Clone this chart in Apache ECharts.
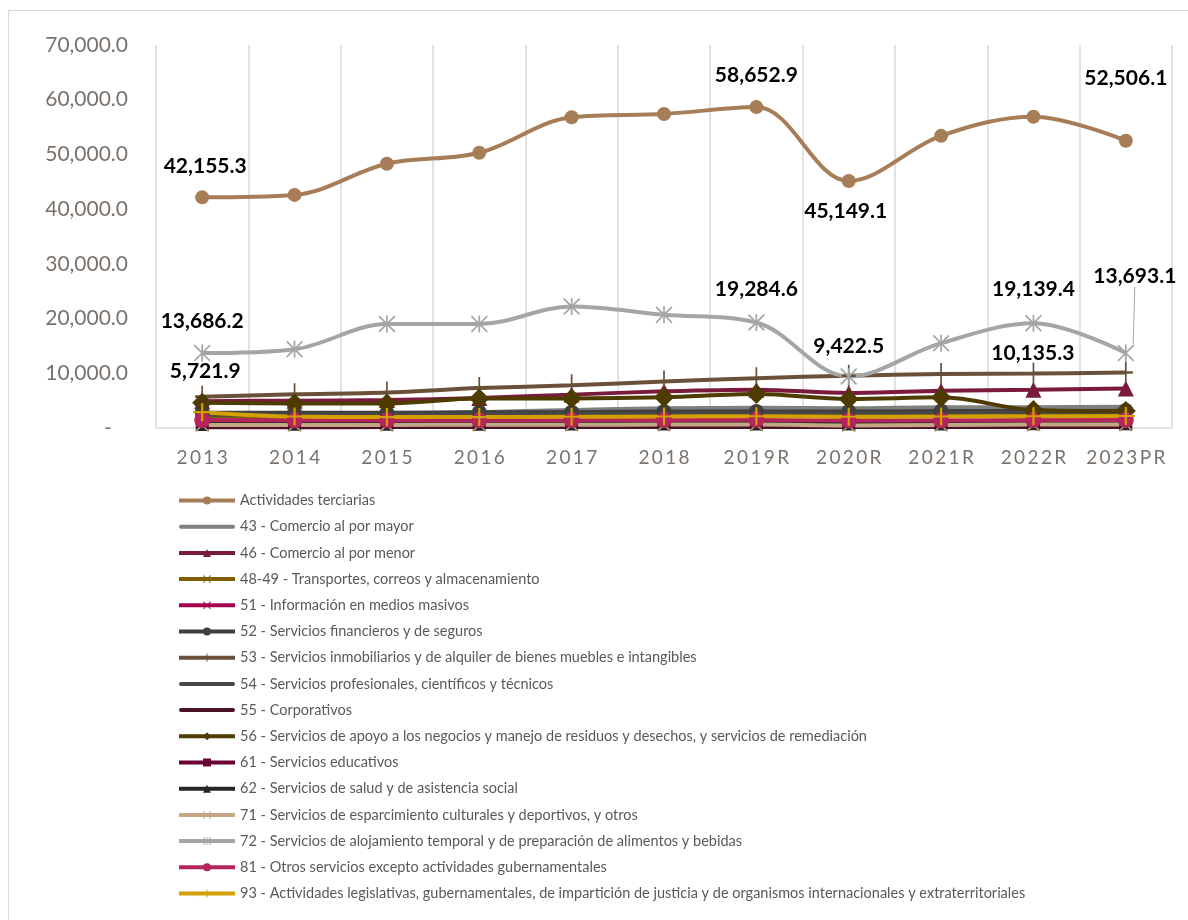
<!DOCTYPE html>
<html>
<head>
<meta charset="utf-8">
<script src="https://cdn.jsdelivr.net/npm/echarts@6/dist/echarts.min.js"></script>
<style>
html,body{margin:0;padding:0;background:#fff;}
#chart{width:1188px;height:920px;}
</style>
</head>
<body>
<div id="chart"></div>
<script>
var categories = ['2013','2014','2015','2016','2017','2018','2019R','2020R','2021R','2022R','2023PR'];

var seriesNames = [
  'Actividades terciarias',
  '43 - Comercio al por mayor',
  '46 - Comercio al por menor',
  '48-49 - Transportes, correos y almacenamiento',
  '51 - Información en medios masivos',
  '52 - Servicios financieros y de seguros',
  '53 - Servicios inmobiliarios y de alquiler de bienes muebles e intangibles',
  '54 - Servicios profesionales, científicos y técnicos',
  '55 - Corporativos',
  '56 - Servicios de apoyo a los negocios y manejo de residuos y desechos, y servicios de remediación',
  '61 - Servicios educativos',
  '62 - Servicios de salud y de asistencia social',
  '71 - Servicios de esparcimiento culturales y deportivos, y otros',
  '72 - Servicios de alojamiento temporal y de preparación de alimentos y bebidas',
  '81 - Otros servicios excepto actividades gubernamentales',
  '93 - Actividades legislativas, gubernamentales, de impartición de justicia y de organismos internacionales y extraterritoriales'
];

var actTerciarias = [42155.3, 42600, 48300, 50300, 56800, 57400, 58652.9, 45149.1, 53400, 56900, 52506.1];
var s43 = [2300, 2400, 2600, 2900, 3300, 3600, 3700, 3600, 3800, 3800, 3900];
var s46 = [4900, 5000, 5100, 5500, 6100, 6700, 7000, 6400, 6800, 7000, 7200];
var s4849 = [2100, 2000, 2100, 2200, 2300, 2400, 2400, 2100, 2200, 2300, 2400];
var s51 = [450, 450, 460, 470, 480, 500, 500, 480, 490, 500, 510];
var s52 = [2800, 2800, 2800, 2900, 2900, 3000, 3000, 3000, 3100, 3100, 3200];
var s53 = [5721.9, 6150, 6500, 7300, 7800, 8500, 9100, 9550, 9850, 9950, 10135.3];
var s54 = [2400, 2400, 2500, 2500, 2600, 2600, 2700, 2600, 2700, 2800, 2800];
var s55 = [150, 150, 160, 160, 170, 170, 180, 170, 180, 180, 190];
var s56 = [4600, 4500, 4500, 5400, 5400, 5600, 6200, 5300, 5600, 3300, 3100];
var s61 = [950, 950, 960, 970, 980, 1000, 1000, 950, 980, 1000, 1020];
var s62 = [750, 760, 770, 780, 800, 820, 830, 820, 840, 850, 860];
var s71 = [550, 560, 570, 580, 600, 620, 630, 450, 560, 620, 640];
var s72 = [13686.2, 14400, 19000, 19000, 22200, 20700, 19284.6, 9422.5, 15500, 19139.4, 13693.1];
var s81 = [1450, 1400, 1400, 1420, 1450, 1480, 1500, 1350, 1420, 1450, 1480];
var s93 = [2900, 2100, 2000, 2000, 2050, 2100, 2150, 2050, 2100, 2150, 2200];

var yTickMax = 70000, yTickStep = 10000;

var PLUS = 'path://M-1.2,-10 L1.2,-10 L1.2,10 L-1.2,10 Z M-10,-1.2 L10,-1.2 L10,1.2 L-10,1.2 Z';
var XMARK = 'path://M-10,-8.5 L-8.5,-10 L10,8.5 L8.5,10 Z M8.5,-10 L10,-8.5 L-8.5,10 L-10,8.5 Z';
var ASTER = 'path://M-1,-10 L1,-10 L1,10 L-1,10 Z M-10,-8.6 L-8.6,-10 L10,8.6 L8.6,10 Z M8.6,-10 L10,-8.6 L-8.6,10 L-10,8.6 Z';
var BAR = 'path://M0,0 L0.01,0 L0.01,0.01 Z M2,3 L54,3 Q56,3 56,5 Q56,7 54,7 L2,7 Q0,7 0,5 Q0,3 2,3 Z M55.99,9.99 L56,10 L55.99,10 Z';

var labelFont = {color:'#000', fontFamily:'Lato', fontWeight:'bold', fontSize:21};

function fmt1(v){return v.toLocaleString('en-US',{minimumFractionDigits:1, maximumFractionDigits:1});}

function lbl(value, opts, extra){
  var o = {value: value, label: Object.assign({show:true, position:'top', distance:14, formatter: function(p){return fmt1(p.value);}}, labelFont, opts || {})};
  return Object.assign(o, extra || {});
}

var actData = actTerciarias.map(function(v,i){
  if(i===0) return lbl(v,{offset:[3,0]});
  if(i===6) return lbl(v);
  if(i===7) return lbl(v,{position:'bottom', distance:13, offset:[-3,0]});
  if(i===10) return lbl(v,{distance:45});
  return v;
});
var d72 = s72.map(function(v,i){
  if(i===0) return lbl(v,{distance:13, offset:[3,0]});
  if(i===6) return lbl(v);
  if(i===7) return lbl(v,{distance:11, offset:[-3,0]});
  if(i===9) return lbl(v,{distance:15});
  if(i===10) return lbl(v,{}, {labelLine:{show:true, lineStyle:{color:'#A5A5A5', width:1}}});
  return v;
});
var d53 = s53.map(function(v,i){
  if(i===0) return lbl(v,{distance:4, offset:[3,0]});
  if(i===10) return lbl(v,{distance:10, offset:[-93,12]});
  return v;
});

function mk(name, data, color, symbol, size, extra){
  var s = {
    name: name, type:'line', data: data, smooth: 0.35,
    symbol: symbol || 'none', symbolSize: size || 10, showSymbol: !!symbol,
    lineStyle:{color: color, width: 4},
    itemStyle:{color: color},
    emphasis:{disabled:true},
    animation:false
  };
  return Object.assign(s, extra || {});
}

var series = [
  mk(seriesNames[0], actData, '#A67D57', 'circle', 14),
  mk(seriesNames[1], s43, '#7F7F7F', null),
  mk(seriesNames[2], s46, '#7A1A3C', 'triangle', 16),
  mk(seriesNames[3], s4849, '#7F6000', XMARK, 12),
  mk(seriesNames[4], s51, '#A5004F', XMARK, 12),
  mk(seriesNames[5], s52, '#3F3F3F', 'circle', 15),
  mk(seriesNames[6], d53, '#6A5039', PLUS, [14, 22]),
  mk(seriesNames[7], s54, '#474747', null),
  mk(seriesNames[8], s55, '#4A1129', null),
  mk(seriesNames[9], s56, '#4D3B00', 'diamond', 20),
  mk(seriesNames[10], s61, '#6B0032', 'rect', 13),
  mk(seriesNames[11], s62, '#262626', 'triangle', 14),
  mk(seriesNames[12], s71, '#C4A785', XMARK, 14),
  mk(seriesNames[13], d72, '#A5A5A5', ASTER, 17, {
    labelLayout: function(p){
      if(p.dataIndex===10) return {dx: 9, dy: -44};
    }
  }),
  mk(seriesNames[14], s81, '#B5245C', 'circle', 16),
  mk(seriesNames[15], s93, '#D4A000', PLUS, 18)
];

var noMarker = {1:true, 7:true, 8:true};
var legendData = seriesNames.map(function(n, i){
  var d = {name: n};
  if(noMarker[i]) d.icon = BAR;
  return d;
});

var chart = echarts.init(document.getElementById('chart'), null, {renderer:'canvas'});
chart.setOption({
  backgroundColor:'#fff',
  animation:false,
  grid:{left:156, right:16, top:45, bottom:492, containLabel:false},
  xAxis:{
    type:'category', data: categories, boundaryGap:true,
    axisLine:{show:true, lineStyle:{color:'#D9D9D9', width:1.5}},
    axisTick:{show:false},
    splitLine:{show:true, interval:0, lineStyle:{color:'#D9D9D9', width:1.5}},
    axisLabel:{interval:0, color:'#7A726C', fontFamily:'Lato', fontSize:19, margin:20,
      formatter:function(v){return v.split('').join('\u2009');}}
  },
  yAxis:{
    type:'value', min:0, max:yTickMax, interval:yTickStep,
    axisLine:{show:false}, axisTick:{show:false},
    splitLine:{show:false},
    axisLabel:{color:'#7A726C', fontFamily:'Lato', fontSize:21, margin:28,
      formatter:function(v){return v===0 ? '-   ' : fmt1(v);}}
  },
  legend:{
    orient:'vertical', left:172, top:488,
    itemWidth:56, itemHeight:10, itemGap:11.2,
    symbolKeepAspect:true,
    lineStyle:{width:4},
    textStyle:{color:'#595959', fontFamily:'Lato', fontSize:14.5, lineHeight:15},
    data: legendData
  },
  graphic:[
    {type:'line', shape:{x1:8, y1:10.5, x2:1188, y2:10.5}, style:{stroke:'#D9D9D9', lineWidth:1}},
    {type:'line', shape:{x1:8.5, y1:10, x2:8.5, y2:920}, style:{stroke:'#D9D9D9', lineWidth:1}}
  ],
  series: series
});
</script>
</body>
</html>
